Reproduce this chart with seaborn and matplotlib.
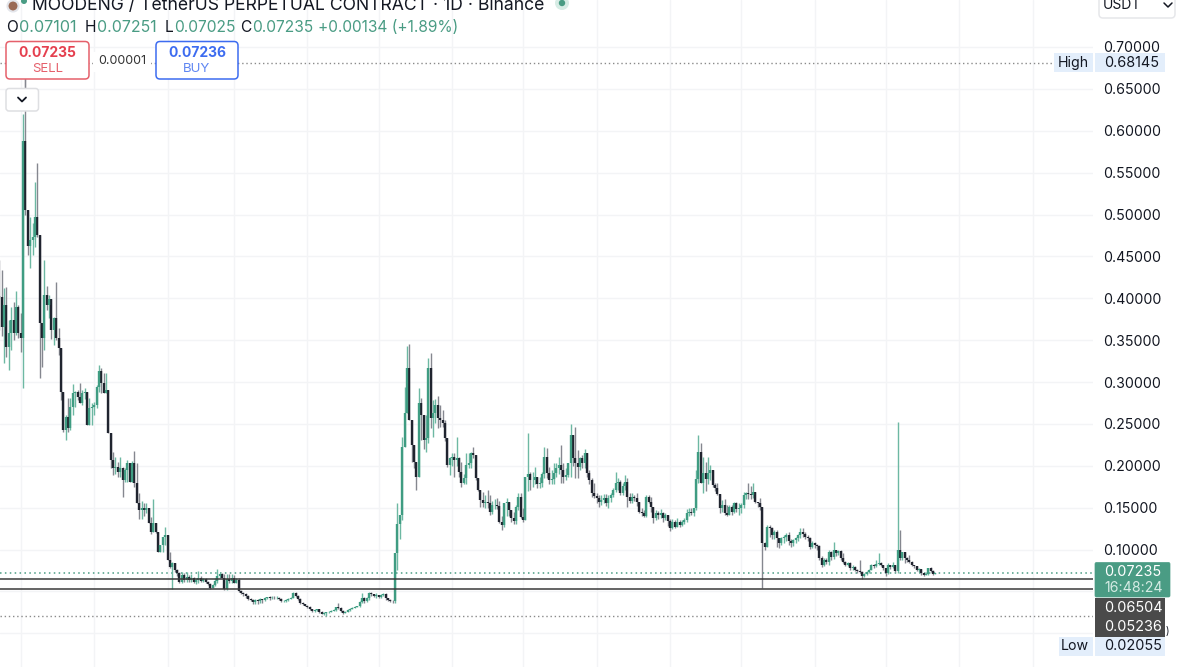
import numpy as np
import pandas as pd
import matplotlib
matplotlib.use("Agg")
import matplotlib.pyplot as plt
from matplotlib.patches import FancyBboxPatch, Rectangle, Circle
import seaborn as sns

first_open = 0.4025
closes = [
.4015,.366,.392,.342,.358,.374,.358,.389,.358,.352,
.588,.5054,.4628,.4695,.4735,.4974,.4755,.3708,.3521,.4039,
.3919,.3987,.362,.376,.3521,.3402,.2884,.2427,.2586,.2447,
.2705,.2865,.2885,.2825,.2753,.2865,.2885,.2487,.2685,.2705,
.2725,.2944,.3135,.2992,.2873,.2905,.2387,.2068,.1969,.1989,
.1929,.1969,.183,.1949,.2029,.181,.2029,.179,.155,.147,
.149,.147,.149,.1312,.1213,.1312,.1213,.0966,.1054,.1153,
.1175,.0874,.079,.0835,.0755,.0715,.0615,.0695,.0635,.0675,
.0635,.0655,.0615,.0635,.0665,.0625,.0645,.0615,.0585,.0545,
.0575,.0625,.0685,.0705,.0665,.0525,.0645,.0625,.0665,.0605,
.0635,.051,.048,.0465,.0445,.041,.04,.0375,.0395,.0385,
.0405,.0395,.0415,.043,.0415,.0425,.042,.0425,.0405,.038,
.0385,.0395,.041,.0425,.048,.0445,.041,.0365,.0345,.033,
.0315,.029,.0265,.0275,.0285,.025,.0235,.0245,.025,.0255,
.0265,.0275,.031,.03,.0265,.0245,.0255,.0275,.029,.0305,
.0315,.0325,.037,.0425,.0385,.0415,.0485,.0465,.044,.0455,
.0435,.0455,.0465,.0415,.0395,.0385,.0383,.0954,.131,.1412,
.2228,.2628,.3163,.2546,.2248,.2049,.187,.2745,.2606,.2307,
.2327,.3163,.2566,.2625,.2725,.2566,.2546,.2506,.2327,.2009,
.2089,.2108,.2069,.2089,.1929,.1798,.185,.2009,.2029,.2148,
.2128,.185,.171,.1591,.1551,.1571,.1551,.1452,.1531,.1535,
.152,.1332,.1293,.1551,.1571,.1472,.1372,.1344,.1512,.1631,
.1392,.1352,.187,.19,.183,.1835,.187,.178,.18,.19,
.2108,.191,.183,.1838,.191,.197,.2009,.195,.187,.189,
.2029,.2367,.2089,.2029,.1989,.2089,.2029,.2148,.191,.183,
.1671,.164,.1611,.1571,.1591,.1611,.155,.1611,.1651,.171,
.179,.181,.167,.176,.181,.1631,.158,.1631,.1611,.1571,
.1452,.1432,.1405,.1631,.1571,.1512,.1373,.1432,.1412,.1432,
.1373,.1412,.1345,.1253,.1333,.1273,.1333,.1293,.1333,.1353,
.1432,.1452,.1432,.1492,.1838,.2168,.1798,.191,.1838,.191,
.1955,.177,.173,.1659,.1492,.1531,.1432,.1412,.1512,.1452,
.1559,.148,.1492,.153,.165,.167,.1665,.1651,.1691,.1572,
.1552,.1512,.1074,.1034,.1273,.1253,.1173,.121,.1133,.1074,
.1133,.115,.1173,.11,.1074,.111,.1133,.1173,.121,.119,
.1153,.1133,.1034,.1074,.1054,.104,.0895,.0815,.0875,.0855,
.0975,.0915,.0994,.0955,.0986,.0895,.0855,.082,.0835,.0775,
.0795,.0755,.074,.0735,.0685,.0705,.0735,.076,.0815,.08,
.0825,.084,.0815,.0775,.0725,.081,.0795,.0815,.0745,.0997,
.0895,.0965,.0895,.0875,.0855,.0815,.08,.0755,.0764,.0715,
.07,.0705,.078,.0745,.07101,.07235]
highs = [
.4457,.4337,.4118,.4138,.374,.3899,.3959,.409,.392,.382,
.62,.68145,.5054,.4966,.4894,.5384,.5611,.4755,.3708,.4457,
.415,.4039,.3987,.378,.4198,.364,.3402,.2884,.2606,.2805,
.2805,.2972,.2895,.2905,.2984,.2905,.2925,.2885,.2805,.2745,
.2765,.2964,.3203,.3163,.3103,.3103,.2905,.2387,.2168,.2108,
.2048,.21,.1989,.1969,.2068,.2029,.206,.218,.2029,.168,
.158,.155,.155,.149,.139,.1603,.1312,.1213,.1054,.1153,
.1264,.1175,.0974,.0845,.0835,.0765,.073,.0735,.0715,.0735,
.0695,.0705,.0675,.0655,.0745,.068,.0665,.0655,.0625,.0595,
.0585,.0665,.077,.0715,.072,.0705,.0705,.0705,.0705,.0695,
.0665,.0655,.052,.0495,.0475,.0455,.042,.041,.041,.0405,
.0415,.041,.043,.0435,.0445,.0445,.0445,.044,.0435,.0415,
.0395,.0405,.042,.0435,.0496,.0496,.0455,.0415,.0375,.035,
.0335,.032,.0295,.0285,.029,.0285,.0265,.0255,.0255,.0265,
.0275,.0285,.0315,.0365,.031,.0275,.0265,.0285,.03,.0315,
.0325,.033,.0385,.0475,.0435,.043,.0496,.0495,.047,.0475,
.046,.047,.0475,.0475,.0415,.0405,.0395,.0954,.155,.1412,
.2347,.2944,.3434,.345,.2546,.2248,.205,.2924,.2805,.2606,
.2606,.3283,.3342,.2785,.28,.2833,.2725,.2666,.2546,.2327,
.2109,.2148,.2148,.2347,.2105,.2049,.19,.2148,.2148,.2168,
.2228,.2128,.185,.171,.169,.165,.171,.1651,.158,.16,
.1611,.1575,.14,.1551,.1611,.1571,.1472,.145,.1532,.1671,
.1671,.15,.187,.2395,.193,.193,.199,.187,.187,.1925,
.2228,.2208,.1989,.195,.2029,.2029,.2108,.2248,.2029,.197,
.2035,.2495,.2367,.2459,.2188,.21,.2129,.2196,.2148,.1949,
.185,.18,.1671,.165,.165,.166,.166,.165,.1671,.1731,
.193,.185,.183,.18,.189,.185,.167,.167,.165,.167,
.1571,.15,.1472,.1651,.165,.1631,.1512,.147,.146,.148,
.145,.143,.1412,.136,.137,.1353,.138,.1353,.1353,.138,
.148,.149,.15,.15,.195,.2367,.2276,.2109,.205,.2109,
.2009,.1955,.18,.1798,.1659,.159,.16,.153,.153,.1531,
.157,.157,.155,.155,.169,.169,.179,.1758,.18,.1691,
.1572,.1611,.1512,.1085,.1293,.1293,.127,.123,.123,.1133,
.115,.117,.12,.1213,.112,.113,.115,.119,.1253,.1253,
.121,.117,.1153,.11,.109,.107,.105,.092,.09,.09,
.1,.0985,.1094,.1,.1,.1,.0955,.0865,.085,.0845,
.081,.0805,.0765,.0875,.0745,.0715,.0745,.077,.083,.083,
.0875,.096,.0855,.082,.078,.084,.082,.085,.082,.2527,
.1233,.0975,.0975,.0905,.0935,.086,.082,.0805,.0775,.077,
.0725,.0735,.0785,.079,.0755,.07251]
lows = [
.362,.355,.3223,.33,.3143,.3382,.35,.356,.352,.336,
.2924,.50,.4516,.4357,.4516,.4616,.4735,.3052,.3183,.3382,
.386,.376,.351,.344,.35,.332,.2785,.2405,.2307,.2407,
.2427,.2606,.27,.2785,.2745,.272,.28,.2487,.2487,.2487,
.2606,.2685,.2884,.2865,.2873,.2865,.2387,.197,.189,.19,
.187,.186,.1623,.181,.181,.181,.181,.175,.155,.137,
.137,.14,.143,.1312,.119,.1213,.1193,.0966,.0966,.0966,
.105,.0874,.0775,.0525,.073,.068,.0595,.0595,.061,.0615,
.0615,.0615,.0595,.0585,.06,.061,.0615,.0605,.0575,.053,
.0535,.056,.06,.0665,.0655,.0515,.0515,.06,.06,.0595,
.0595,.0497,.047,.0445,.0425,.04,.038,.0345,.035,.0355,
.0365,.0365,.0385,.041,.04,.0405,.041,.0405,.0395,.037,
.037,.0375,.039,.0405,.042,.043,.0395,.035,.0335,.032,
.03,.028,.0255,.0255,.0265,.024,.0225,.0215,.02055,.024,
.025,.026,.027,.0295,.0255,.0235,.024,.025,.027,.0285,
.03,.031,.031,.036,.0365,.0375,.04,.045,.043,.0425,
.0415,.042,.0445,.04,.038,.037,.036,.0365,.0755,.112,
.1352,.2228,.2628,.2546,.205,.197,.171,.187,.2307,.22,
.2168,.2268,.2447,.2347,.2507,.2447,.2467,.2467,.23,.199,
.189,.2,.187,.2,.186,.175,.178,.178,.197,.197,
.2089,.183,.17,.1512,.1512,.15,.15,.1412,.142,.148,
.148,.1313,.1233,.1273,.14,.14,.133,.13,.13,.1472,
.1372,.133,.1352,.17,.171,.175,.178,.173,.173,.175,
.185,.185,.178,.178,.178,.187,.19,.179,.179,.183,
.186,.186,.2,.185,.185,.195,.197,.197,.187,.178,
.163,.1611,.1551,.151,.153,.155,.152,.15,.157,.1631,
.169,.171,.165,.165,.171,.1512,.1551,.156,.158,.152,
.1432,.14,.1392,.1392,.155,.145,.132,.135,.137,.138,
.133,.135,.128,.1225,.125,.126,.127,.127,.1283,.131,
.133,.14,.1412,.14,.147,.18,.179,.168,.17,.178,
.183,.175,.17,.165,.1433,.145,.141,.14,.1412,.1412,
.143,.145,.141,.143,.15,.16,.16,.16,.162,.155,
.151,.1472,.0537,.1,.1034,.115,.112,.113,.1034,.102,
.105,.108,.11,.1054,.103,.104,.108,.11,.114,.115,
.112,.11,.101,.1014,.102,.1,.087,.0795,.08,.083,
.082,.088,.089,.092,.094,.088,.084,.08,.08,.076,
.076,.074,.072,.072,.0644,.067,.069,.0725,.075,.078,
.079,.081,.08,.076,.0685,.071,.077,.078,.073,.0725,
.088,.0875,.0835,.085,.084,.08,.078,.074,.0735,.0695,
.0685,.069,.07,.073,.0695,.07025]
price_ticks = [.00,.05,.10,.15,.20,.25,.30,.35,.40,.45,.50,.55,.60,.65,.70]
price_labels = ["", "", "0.10000", "0.15000", "0.20000", "0.25000", "0.30000", "0.35000",
                "0.40000", "0.45000", "0.50000", "0.55000", "0.60000", "0.65000", "0.70000"]
month_days = [9,40,71,99,130,160,191,221,252,283,313,344,374,405,436]
high_level, low_level = 0.68145, 0.02055
last_price, line_a, line_b = 0.07235, 0.06504, 0.05236

n = min(len(closes), len(highs), len(lows))
closes, highs, lows = closes[:n], highs[:n], lows[:n]
opens = [first_open] + closes[:-1]
days = list(range(n))
dirs = ["up" if c >= o else "down" for o, c in zip(opens, closes)]

df = pd.DataFrame({"day": days, "o": opens, "h": highs, "l": lows, "c": closes, "dir": dirs})
wicks = df.melt(id_vars=["day", "dir"], value_vars=["l", "h"], value_name="price")
bodies = df.melt(id_vars=["day", "dir"], value_vars=["o", "c"], value_name="price")

sns.set_theme(style="white")
plt.rcParams["font.family"] = ["Inter", "DejaVu Sans"]
DARK = "#131722"
GREEN = "#4a9c84"
fig = plt.figure(figsize=(12, 6.67), dpi=100)
ax = fig.add_axes([0, 0, 1093 / 1200, 1])
ax.set_xlim(0.67 / 2.37, 1093.67 / 2.37)
ax.set_ylim(0.10 - 117.5 / 837.5, 0.10 + 549.5 / 837.5)

for d in month_days:
    ax.axvline(d, color="#f3f4f6", lw=1.0, zorder=0)
for p in price_ticks:
    ax.axhline(p, color="#f3f4f6", lw=1.0, zorder=0)

sns.lineplot(data=wicks, x="day", y="price", hue="dir", units="day", estimator=None, sort=False,
             palette={"up": "#6db8a3", "down": "#85878f"}, lw=1.0, legend=False, ax=ax,
             solid_capstyle="butt", zorder=2)
sns.lineplot(data=bodies, x="day", y="price", hue="dir", units="day", estimator=None, sort=False,
             palette={"up": "#3f9c82", "down": "#20242f"}, lw=1.7, legend=False, ax=ax,
             solid_capstyle="butt", zorder=3)

ax.axhline(last_price, color=GREEN, lw=1.1, ls=(0, (1, 2.2)), zorder=1)
ax.axhline(line_a, color="#3a3a3a", lw=1.1, zorder=4)
ax.axhline(line_b, color="#3a3a3a", lw=1.1, zorder=4)
ax.axhline(high_level, color="#8a8a8a", lw=1.0, ls=(0, (1, 2)), zorder=1)
ax.axhline(low_level, color="#8a8a8a", lw=1.0, ls=(0, (1, 2)), zorder=1)

ax.set_xlabel("")
ax.set_ylabel("")
ax.set_xticks([])
ax.yaxis.tick_right()
ax.set_yticks(price_ticks)
ax.set_yticklabels(price_labels, fontsize=10.2, color=DARK)
ax.tick_params(axis="y", length=0, pad=7.2)
for s in ax.spines.values():
    s.set_visible(False)

# overlay in pixel coordinates for the trading-terminal chrome
ov = fig.add_axes([0, 0, 1, 1], zorder=5)
ov.set_xlim(0, 1200)
ov.set_ylim(667, 0)
ov.axis("off")
ov.patch.set_alpha(0)

def py(price):
    return 549.5 - (price - 0.10) * 837.5

def rbox(x0, y0, x1, y1, fc, ec, r=4, lw=1.1, z=6):
    ov.add_patch(FancyBboxPatch((x0 + r, y0 + r), x1 - x0 - 2 * r, y1 - y0 - 2 * r,
                                boxstyle=f"round,pad={r},rounding_size={r}", fc=fc, ec=ec, lw=lw, zorder=z))

def tag(x0, x1, yc, h, fc):
    ov.add_patch(Rectangle((x0, yc - h / 2), x1 - x0, h, fc=fc, ec="none", zorder=6))

# header
ov.add_patch(Circle((13, 6), 5.5, fc="#9a6a55", ec="#e3e5ea", lw=1.5, zorder=6))
ov.add_patch(Circle((24, 1), 3, fc="#4a9c84", ec="none", zorder=6))
ov.text(32, 5, "MOODENG / TetherUS PERPETUAL CONTRACT · 1D · Binance", fontsize=12.65, color=DARK,
        va="center", ha="left", zorder=7)
ov.add_patch(Circle((562, 3), 7, fc="#d7ece5", ec="none", zorder=6))
ov.add_patch(Circle((562, 3), 3.2, fc=GREEN, ec="none", zorder=7))
row = [(6, "O", DARK, 11.2), (19, "0.07101", GREEN, 11.7), (85, "H", DARK, 11.2), (97.5, "0.07251", GREEN, 11.4),
       (165, "L", DARK, 11.2), (174, "0.07025", GREEN, 11.2), (240.5, "C", DARK, 11.2), (252.5, "0.07235", GREEN, 11.2),
       (318, "+0.00134 (+1.89%)", GREEN, 11.15)]
for x, s, c, fs in row:
    ov.text(x, 27.5, s, fontsize=fs, color=c, va="center", ha="left", zorder=7)

# buy / sell boxes
ov.plot([25, 25], [79, 88], color="#85878f", lw=0.9, zorder=5)
rbox(6, 41.5, 89, 79, "white", "#e5606b")
ov.text(47.5, 53, "0.07235", fontsize=10, color="#e5404f", weight="bold", ha="center", va="center", zorder=7)
ov.text(47.5, 69, "SELL", fontsize=9.5, color="#e5606b", ha="center", va="center", zorder=7)
ov.add_patch(Rectangle((93, 52), 58, 20, fc="white", ec="none", zorder=5.5))
ov.text(122.5, 61, "0.00001", fontsize=9.0, color="#333333", ha="center", va="center", zorder=7)
rbox(156, 41.5, 238, 79, "white", "#3d6cf0")
ov.text(197, 53, "0.07236", fontsize=10, color="#3d6cf0", weight="bold", ha="center", va="center", zorder=7)
ov.text(197, 69, "BUY", fontsize=9.5, color="#5f86f2", ha="center", va="center", zorder=7)
rbox(6, 88.5, 38.5, 111, "white", "#dedfe2", r=3)
ov.plot([18, 22, 26], [97.5, 101.5, 97.5], color="#131722", lw=1.3, zorder=7)

# currency selector
rbox(1099, -8, 1175, 18, "white", "#e6e7ea", r=4)
ov.text(1103, 5, "USDT", fontsize=10, color=DARK, va="center", ha="left", zorder=7)
ov.plot([1164, 1168, 1172], [3, 7, 3], color=DARK, lw=1.1, zorder=7)

# price-scale tags
HL = "#e3eefb"
ylabs = (("High", high_level, 1054, py(high_level)), ("Low", low_level, 1059, 646.5))
for lab, price, x0, yc in ylabs:
    tag(x0, 1093, yc, 19, HL)
    tag(1095, 1165, yc, 19, HL)
    ov.text(1089, yc, lab, fontsize=10.2, color=DARK, ha="right", va="center", zorder=7)
    ov.text(1104, yc, f"{price:.5f}", fontsize=10.4, color=DARK, ha="left", va="center", zorder=7)

rbox(1095, 562.5, 1170, 597, GREEN, GREEN, r=1.5, lw=0.5)
ov.text(1104, 572, f"{last_price:.5f}", fontsize=10.4, color="white", ha="left", va="center", zorder=7)
ov.text(1104, 588, "16:48:24", fontsize=10.2, color="#d5ebe4", ha="left", va="center", zorder=7)
tag(1095, 1165, 608, 20, "#4a4a4a")
tag(1095, 1165, 627.5, 19, "#4a4a4a")
ov.text(1104, 608, f"{line_a:.5f}", fontsize=10.4, color="white", ha="left", va="center", zorder=7)
ov.text(1104, 627, f"{line_b:.5f}", fontsize=10.4, color="white", ha="left", va="center", zorder=7)
ov.text(1166, 632, ")", fontsize=7, color=DARK, ha="left", va="center", zorder=7)

fig.savefig("out.png", dpi=100)
